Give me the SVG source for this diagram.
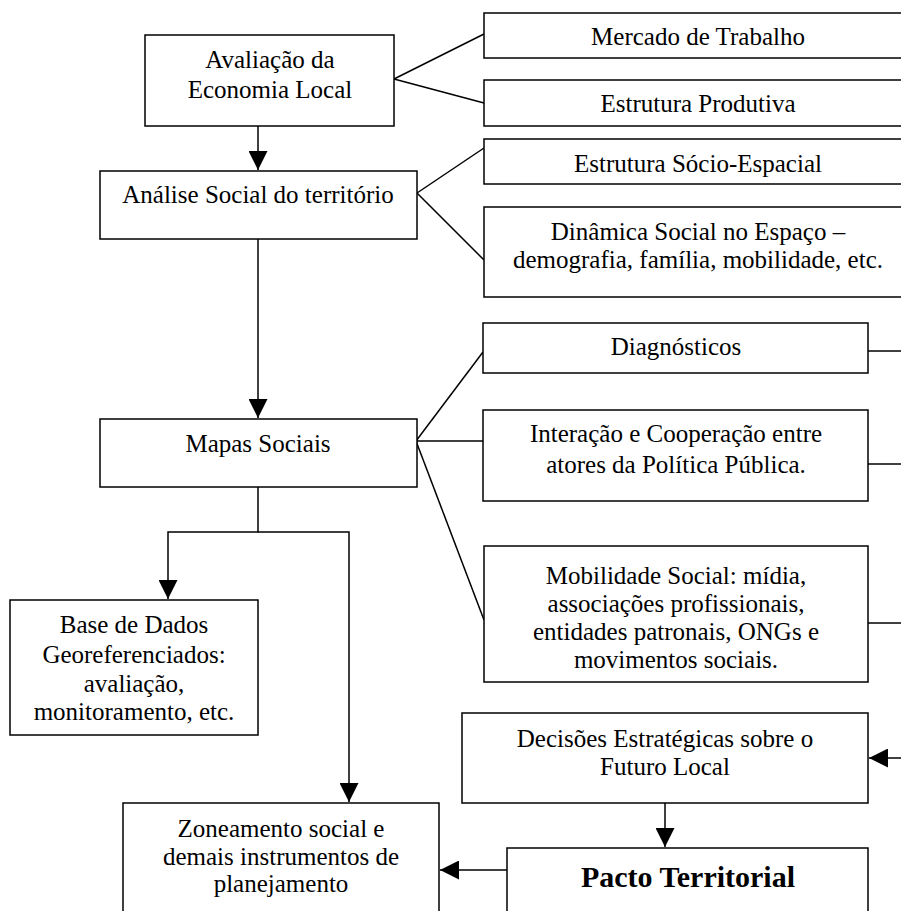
<svg xmlns="http://www.w3.org/2000/svg" width="901" height="911" viewBox="0 0 901 911">
<style>
  .box { fill: #ffffff; stroke: #000000; stroke-width: 1.5; }
  .ln { fill: none; stroke: #000000; stroke-width: 1.5; }
  text { font-family: "Liberation Serif", "Times New Roman", serif; font-size: 25px; fill: #000000; text-anchor: middle; }
  .bold { font-weight: bold; font-size: 30px; }
</style>
<defs>
  <marker id="arr" markerUnits="userSpaceOnUse" markerWidth="19" markerHeight="19" viewBox="0 0 18 18" refX="18" refY="9" orient="auto">
    <path d="M0,0 L18,9 L0,18 Z" fill="#000000"/>
  </marker>
</defs>
<rect width="901" height="911" fill="#ffffff"/>

<g id="connectors">
  <line class="ln" x1="258" y1="126" x2="258" y2="170" marker-end="url(#arr)"/>
  <line class="ln" x1="258" y1="239" x2="258" y2="418" marker-end="url(#arr)"/>
  <polyline class="ln" points="258,487 258,532 168,532 168,599" marker-end="url(#arr)"/>
  <polyline class="ln" points="258,532 349,532 349,802" marker-end="url(#arr)"/>
  <line class="ln" x1="901" y1="758" x2="869" y2="758" marker-end="url(#arr)"/>
  <line class="ln" x1="665" y1="803" x2="665" y2="847" marker-end="url(#arr)"/>
  <line class="ln" x1="507" y1="870" x2="440" y2="870" marker-end="url(#arr)"/>
  <line class="ln" x1="394" y1="79" x2="484" y2="34"/>
  <line class="ln" x1="394" y1="79" x2="484" y2="103"/>
  <line class="ln" x1="417" y1="193" x2="484" y2="148"/>
  <line class="ln" x1="417" y1="193" x2="484" y2="260"/>
  <line class="ln" x1="416" y1="441" x2="483" y2="352"/>
  <line class="ln" x1="416" y1="441" x2="483" y2="441"/>
  <line class="ln" x1="416" y1="441" x2="484" y2="620"/>
  <line class="ln" x1="868" y1="351" x2="901" y2="351"/>
  <line class="ln" x1="868" y1="464" x2="901" y2="464"/>
  <line class="ln" x1="868" y1="623" x2="901" y2="623"/>
</g>

<g id="avaliacao">
  <rect class="box" x="145" y="35" width="249" height="91"/>
  <text x="270" y="68">Avaliação da</text>
  <text x="270" y="98">Economia Local</text>
</g>
<g id="analise">
  <rect class="box" x="100" y="171" width="317" height="68"/>
  <text x="258" y="203">Análise Social do território</text>
</g>
<g id="mapas">
  <rect class="box" x="100" y="419" width="317" height="68"/>
  <text x="258" y="452">Mapas Sociais</text>
</g>
<g id="mercado">
  <rect class="box" x="484" y="13" width="430" height="45"/>
  <text x="698" y="45">Mercado de Trabalho</text>
</g>
<g id="produtiva">
  <rect class="box" x="484" y="80" width="430" height="46"/>
  <text x="698" y="112">Estrutura Produtiva</text>
</g>
<g id="socioespacial">
  <rect class="box" x="484" y="139" width="430" height="45"/>
  <text x="698" y="172">Estrutura Sócio-Espacial</text>
</g>
<g id="dinamica">
  <rect class="box" x="484" y="207" width="430" height="90"/>
  <text x="698" y="240">Dinâmica Social no Espaço –</text>
  <text x="698" y="268">demografia, família, mobilidade, etc.</text>
</g>
<g id="diagnosticos">
  <rect class="box" x="483" y="323" width="385" height="50"/>
  <text x="676" y="355">Diagnósticos</text>
</g>
<g id="interacao">
  <rect class="box" x="483" y="410" width="385" height="91"/>
  <text x="676" y="442">Interação e Cooperação entre</text>
  <text x="676" y="473">atores da Política Pública.</text>
</g>
<g id="mobilidade">
  <rect class="box" x="484" y="546" width="384" height="136"/>
  <text x="676" y="584">Mobilidade Social: mídia,</text>
  <text x="676" y="612">associações profissionais,</text>
  <text x="676" y="640">entidades patronais, ONGs e</text>
  <text x="676" y="668">movimentos sociais.</text>
</g>
<g id="basedados">
  <rect class="box" x="10" y="600" width="248" height="135"/>
  <text x="134" y="633">Base de Dados</text>
  <text x="134" y="663">Georeferenciados:</text>
  <text x="134" y="692">avaliação,</text>
  <text x="134" y="720">monitoramento, etc.</text>
</g>
<g id="decisoes">
  <rect class="box" x="462" y="713" width="406" height="90"/>
  <text x="665" y="747">Decisões Estratégicas sobre o</text>
  <text x="665" y="775">Futuro Local</text>
</g>
<g id="zoneamento">
  <rect class="box" x="123" y="803" width="316" height="120"/>
  <text x="281" y="837">Zoneamento social e</text>
  <text x="281" y="865">demais instrumentos de</text>
  <text x="281" y="892">planejamento</text>
</g>
<g id="pacto">
  <rect class="box" x="507" y="848" width="361" height="80"/>
  <text class="bold" x="688" y="887">Pacto Territorial</text>
</g>
</svg>
